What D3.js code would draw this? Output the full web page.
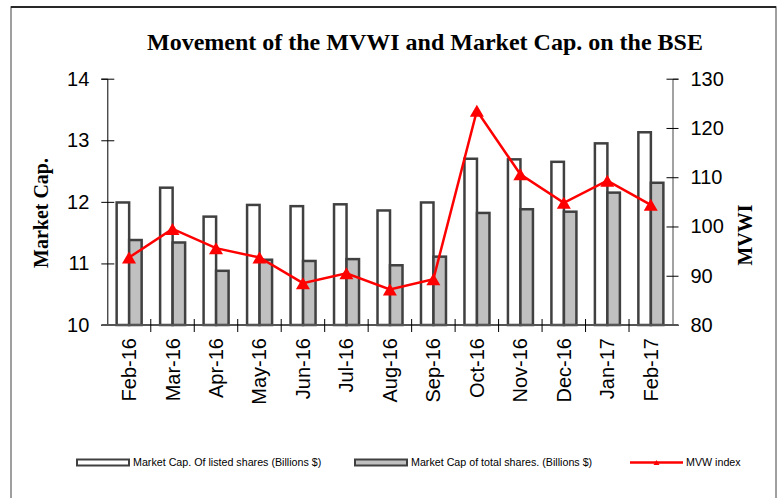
<!DOCTYPE html>
<html>
<head>
<meta charset="utf-8">
<script src="https://cdn.jsdelivr.net/npm/d3@7"></script>
<style>
  body { margin: 0; background: #fff; }
  svg { display: block; }
</style>
</head>
<body>
<svg width="782" height="498"></svg>
<script>
// data
var months = ["Feb-16","Mar-16","Apr-16","May-16","Jun-16","Jul-16","Aug-16","Sep-16","Oct-16","Nov-16","Dec-16","Jan-17","Feb-17"];
var listedCap = [11.99,12.23,11.76,11.95,11.93,11.96,11.86,11.99,12.70,12.69,12.65,12.95,13.13];
var totalCap  = [11.38,11.34,10.88,11.06,11.04,11.07,10.97,11.11,11.82,11.88,11.84,12.15,12.31];
var mvwi      = [93.7,99.5,95.6,93.7,88.5,90.5,87.2,89.3,123.5,110.6,104.8,109.3,104.4];
var leftTicks = [10,11,12,13,14];
var rightTicks = [80,90,100,110,120,130];

var svg = d3.select("svg");

// outer frame
svg.append("rect")
  .attr("x", 11).attr("y", 7)
  .attr("width", 765).attr("height", 520)
  .attr("fill", "none").attr("stroke", "#808080").attr("stroke-width", 1.5);
svg.append("line")
  .attr("x1", 11).attr("x2", 776).attr("y1", 7).attr("y2", 7)
  .attr("stroke", "#000").attr("stroke-width", 1.5);

var plotLeft = 107.3, plotRight = 672.5, plotTop = 78.7, plotBottom = 325;

var xCat = d3.scaleBand().domain(months).range([plotLeft, plotRight]);
var step = xCat.step();
var xSub = d3.scaleBand().domain(["listed","total"]).range([step * 0.215, step * 0.79]);

var yL = d3.scaleLinear().domain([10, 14]).range([plotBottom, plotTop]);
var yR = d3.scaleLinear().domain([80, 130]).range([plotBottom, plotTop]);

// title
svg.append("text")
  .attr("x", 425).attr("y", 50)
  .attr("text-anchor", "middle")
  .attr("font-family", "Liberation Serif, Times New Roman, serif")
  .attr("font-weight", "bold")
  .attr("font-size", "24px")
  .text("Movement of the MVWI and Market Cap. on the BSE");

// bars
var g = svg.append("g");
months.forEach(function(m, i) {
  g.append("rect")
    .attr("x", xCat(m) + xSub("listed"))
    .attr("y", yL(listedCap[i]))
    .attr("width", xSub.bandwidth())
    .attr("height", plotBottom - yL(listedCap[i]))
    .attr("fill", "#fff").attr("stroke", "#404040").attr("stroke-width", 2.5);
  g.append("rect")
    .attr("x", xCat(m) + xSub("total"))
    .attr("y", yL(totalCap[i]))
    .attr("width", xSub.bandwidth())
    .attr("height", plotBottom - yL(totalCap[i]))
    .attr("fill", "#c0c0c0").attr("stroke", "#404040").attr("stroke-width", 2.5);
});

// left axis
var axL = svg.append("g")
  .attr("transform", "translate(" + plotLeft + ",0)")
  .call(d3.axisLeft(yL).tickValues(leftTicks).tickFormat(d3.format("d")).tickSize(6).tickPadding(12));
axL.select(".domain").attr("stroke", "#000");
axL.selectAll(".tick line").attr("x1", -6).attr("x2", 7).attr("stroke", "#000");
axL.selectAll(".tick text")
  .attr("font-family", "Liberation Sans, Arial, sans-serif")
  .attr("font-size", "20px").attr("fill", "#000");

// right axis
var axR = svg.append("g")
  .attr("transform", "translate(" + plotRight + ",0)")
  .call(d3.axisRight(yR).tickValues(rightTicks).tickSize(6).tickPadding(12));
axR.select(".domain").attr("stroke", "#444");
axR.selectAll(".tick line").attr("x1", -6).attr("x2", 6).attr("stroke", "#000");
axR.selectAll(".tick text")
  .attr("font-family", "Liberation Sans, Arial, sans-serif")
  .attr("font-size", "20px").attr("fill", "#000");

// x axis line and boundary ticks
svg.append("line")
  .attr("x1", plotLeft - 6).attr("x2", plotRight + 6)
  .attr("y1", plotBottom).attr("y2", plotBottom)
  .attr("stroke", "#555").attr("stroke-width", 2);
months.slice(1).forEach(function(m) {
  svg.append("line")
    .attr("x1", xCat(m)).attr("x2", xCat(m))
    .attr("y1", plotBottom - 6).attr("y2", plotBottom + 7)
    .attr("stroke", "#000");
});
months.forEach(function(m) {
  var cx = xCat(m) + step / 2;
  svg.append("text")
    .attr("transform", "translate(" + cx + "," + (plotBottom + 13) + ") rotate(-90)")
    .attr("dy", "0.35em")
    .attr("text-anchor", "end")
    .attr("font-family", "Liberation Sans, Arial, sans-serif")
    .attr("font-size", "20px")
    .text(m);
});

// MVWI line
var line = d3.line()
  .x(function(d, i) { return xCat(months[i]) + step / 2; })
  .y(function(d) { return yR(d); });
svg.append("path")
  .datum(mvwi)
  .attr("d", line)
  .attr("fill", "none").attr("stroke", "#ff0000").attr("stroke-width", 2.5);

function tri(w, h) {
  return "M0," + (-h / 2) + "L" + (w / 2) + "," + (h / 2) + "L" + (-w / 2) + "," + (h / 2) + "Z";
}
svg.selectAll(".mk")
  .data(mvwi)
  .enter().append("path")
  .attr("class", "mk")
  .attr("transform", function(d, i) { return "translate(" + (xCat(months[i]) + step / 2) + "," + yR(d) + ")"; })
  .attr("d", tri(14, 12))
  .attr("fill", "#ff0000");

// axis titles
svg.append("text")
  .attr("transform", "translate(41,213) rotate(-90)")
  .attr("dy", "0.35em")
  .attr("text-anchor", "middle")
  .attr("font-family", "Liberation Serif, Times New Roman, serif")
  .attr("font-weight", "bold").attr("font-size", "20px")
  .text("Market Cap.");
svg.append("text")
  .attr("transform", "translate(745,235) rotate(-90)")
  .attr("dy", "0.35em")
  .attr("text-anchor", "middle")
  .attr("font-family", "Liberation Serif, Times New Roman, serif")
  .attr("font-weight", "bold").attr("font-size", "20px")
  .text("MVWI");

// legend
var legendItems = [
  { label: "Market Cap. Of listed shares (Billions $)", type: "bar", fill: "#fff", x: 77 },
  { label: "Market Cap of total shares. (Billions $)", type: "bar", fill: "#c0c0c0", x: 355 },
  { label: "MVW index", type: "line", x: 630 }
];
var ly = 462.5;
legendItems.forEach(function(it) {
  if (it.type === "bar") {
    svg.append("rect")
      .attr("x", it.x).attr("y", ly - 3)
      .attr("width", 52).attr("height", 6)
      .attr("fill", it.fill).attr("stroke", "#404040").attr("stroke-width", 2);
  } else {
    svg.append("line")
      .attr("x1", it.x).attr("x2", it.x + 53)
      .attr("y1", ly).attr("y2", ly)
      .attr("stroke", "#ff0000").attr("stroke-width", 2.5);
    svg.append("path")
      .attr("transform", "translate(" + (it.x + 26.5) + "," + ly + ")")
      .attr("d", tri(6, 5)).attr("fill", "#ff0000");
  }
  svg.append("text")
    .attr("x", it.x + 56).attr("y", ly)
    .attr("dy", "0.35em")
    .attr("font-family", "Liberation Sans, Arial, sans-serif")
    .attr("font-size", "10.7px")
    .text(it.label);
});
</script>
</body>
</html>
